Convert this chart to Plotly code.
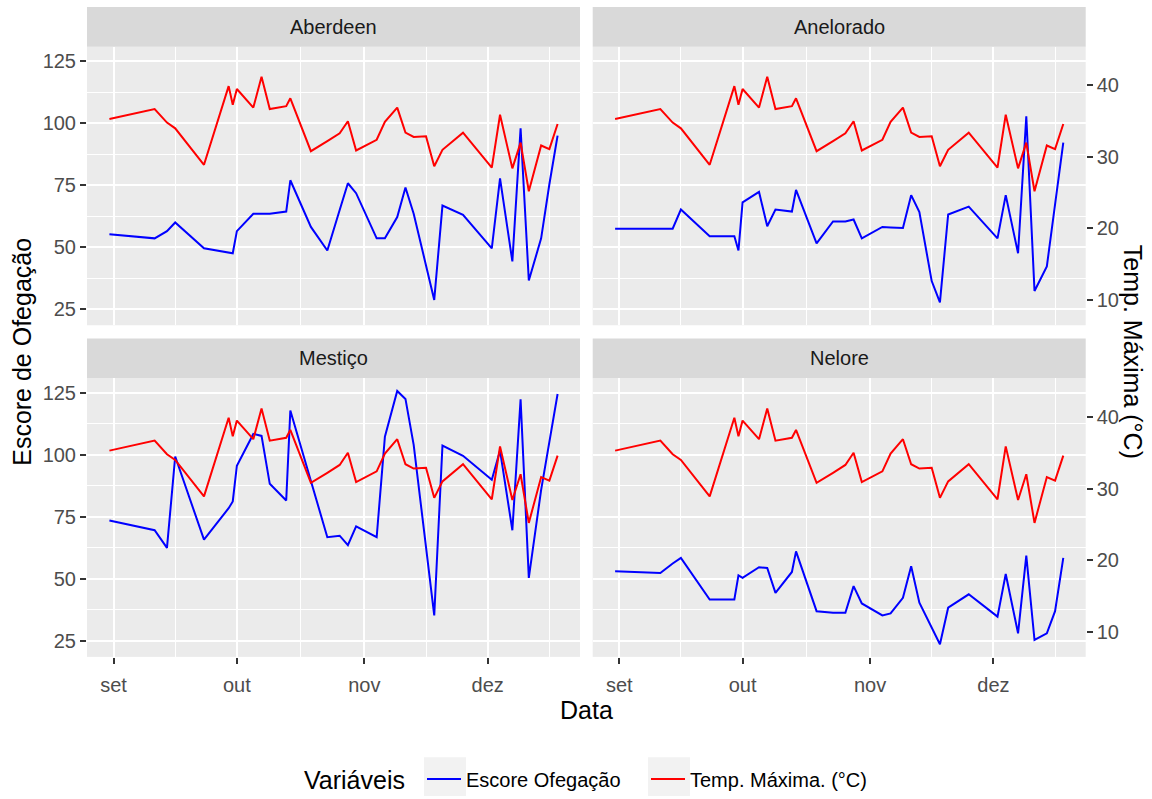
import pandas as pd
import plotly.graph_objects as go

# Datas das medições
datas = [
    "2022-08-31", "2022-09-11", "2022-09-14", "2022-09-16", "2022-09-23",
    "2022-09-29", "2022-09-30", "2022-10-01", "2022-10-05", "2022-10-07",
    "2022-10-09", "2022-10-13", "2022-10-14", "2022-10-19", "2022-10-23",
    "2022-10-26", "2022-10-28", "2022-10-30", "2022-11-04", "2022-11-06",
    "2022-11-09", "2022-11-11", "2022-11-13", "2022-11-16", "2022-11-18",
    "2022-11-20", "2022-11-25", "2022-12-02", "2022-12-04", "2022-12-07",
    "2022-12-09", "2022-12-11", "2022-12-14", "2022-12-16", "2022-12-18",
]

# Temperatura máxima do dia (°C)
temp_maxima = [
    35.3, 36.7, 34.8, 34.0, 28.9, 39.9, 37.3, 39.5, 36.9, 41.2,
    36.7, 37.1, 38.2, 30.8, 32.2, 33.3, 35.0, 30.9, 32.4, 34.9,
    36.9, 33.4, 32.8, 32.9, 28.7, 31.0, 33.4, 28.5, 35.9, 28.4,
    32.0, 25.2, 31.6, 31.1, 34.6,
]

# Escore de ofegação por raça
escore_aberdeen = [
    55.3, 53.6, 56.5, 60.0, 49.6, 47.9, 47.6, 56.5, 63.5, 63.5,
    63.5, 64.4, 77.0, 58.2, 48.7, 65.0, 75.8, 71.8, 53.6, 53.6,
    62.2, 74.1, 63.5, 42.7, 28.8, 66.8, 63.1, 49.6, 77.8, 44.3,
    97.9, 36.6, 53.6, 75.4, 95.0,
]
escore_anelorado = [
    57.5, 57.5, 57.5, 65.2, 54.5, 54.5, 48.7, 68.1, 72.3, 58.5,
    65.2, 64.4, 73.1, 51.6, 60.4, 60.4, 61.2, 53.6, 58.2, 58.0,
    57.8, 71.0, 64.2, 36.4, 27.8, 63.2, 66.4, 53.6, 71.0, 47.6,
    102.8, 32.4, 42.3, 67.3, 92.2,
]
escore_mestico = [
    73.5, 69.6, 62.5, 99.3, 65.8, 78.5, 81.2, 95.6, 108.4, 107.6,
    88.3, 81.6, 117.8, 89.4, 66.8, 67.4, 63.6, 71.2, 66.8, 107.3,
    125.7, 122.5, 104.0, 62.8, 35.3, 103.7, 99.6, 89.9, 101.7, 69.6,
    122.3, 50.4, 85.9, 105.2, 124.5,
]
escore_nelore = [
    53.1, 52.4, 56.2, 58.5, 41.7, 41.7, 51.4, 50.4, 54.7, 54.4,
    44.4, 52.8, 61.1, 37.0, 36.4, 36.4, 47.1, 40.1, 35.3, 36.1,
    42.4, 55.1, 40.4, 30.3, 23.7, 38.4, 43.8, 34.8, 52.0, 28.1,
    59.4, 25.4, 28.1, 37.0, 58.5,
]

racas = ["Aberdeen", "Anelorado", "Mestiço", "Nelore"]
meses_tick = ["2022-09-01", "2022-10-01", "2022-11-01", "2022-12-01"]
meses_rotulo = ["set", "out", "nov", "dez"]
escore_ticks = [25, 50, 75, 100, 125]
temp_ticks = [10, 20, 30, 40]

# Fator que leva a temperatura para a escala do escore (eixo secundário)
FATOR = 2.88

escores = [escore_aberdeen, escore_anelorado, escore_mestico, escore_nelore]

W, H = 1152, 799
FONTE = "Liberation Sans, Arial, sans-serif"
COLUNAS = [(87, 580), (592.7, 1085.7)]      # px horizontais dos painéis
LINHAS = [(47, 327.3), (380.7, 661)]         # px verticais dos painéis
FAIXA = 40                                   # altura da faixa de título do painel

# Limites com expansão de 5% (como no ggplot)
d = pd.to_datetime(datas)
span = d.max() - d.min()
x_range = [d.min() - 0.05 * span, d.max() + 0.05 * span]

todos = [v for s in escores for v in s] + [t * FATOR for t in temp_maxima]
lo, hi = min(todos), max(todos)
y_range = [lo - 0.05 * (hi - lo), hi + 0.05 * (hi - lo)]
t_range = [y_range[0] / FATOR, y_range[1] / FATOR]

# Linhas de grade secundárias: pontos médios entre as marcas principais
mt = pd.to_datetime(meses_tick)
minor_x = [mt[i] + (mt[i + 1] - mt[i]) / 2 for i in range(len(mt) - 1)]
minor_x.append(mt[-1] + (mt[-1] - mt[-2]) / 2)
minor_x = [m for m in minor_x if x_range[0] <= m <= x_range[1]]
minor_y = [(a + b) / 2 for a, b in zip(escore_ticks[:-1], escore_ticks[1:])]

fig = go.Figure()
layout = dict(
    width=W, height=H,
    margin=dict(l=0, r=0, t=0, b=0),
    paper_bgcolor="white",
    plot_bgcolor="#EBEBEB",
    font=dict(family=FONTE, color="black"),
    showlegend=True,
)

eixo_comum = dict(zeroline=False, showline=False, fixedrange=True,
                  ticklen=6, tickwidth=1.5, tickcolor="#333333",
                  tickfont=dict(size=20, color="#4D4D4D", family=FONTE))

shapes = []
annotations = []
for i, (raca, esc) in enumerate(zip(racas, escores)):
    r, c = divmod(i, 2)
    n = "" if i == 0 else str(i + 1)
    x0, x1 = COLUNAS[c]
    y0, y1 = LINHAS[r]

    layout[f"xaxis{n}"] = dict(
        eixo_comum, domain=[x0 / W, x1 / W], anchor=f"y{n}", type="date",
        range=x_range, tickmode="array", tickvals=meses_tick, ticktext=meses_rotulo,
        showticklabels=(r == 1), ticks="outside" if r == 1 else "",
        ticklabelstandoff=4,
        showgrid=True, gridcolor="white", gridwidth=2,
        minor=dict(tickvals=minor_x, showgrid=True, gridcolor="white", gridwidth=1, ticks=""),
    )
    layout[f"yaxis{n}"] = dict(
        eixo_comum, domain=[1 - y1 / H, 1 - y0 / H], anchor=f"x{n}",
        range=y_range, tickmode="array", tickvals=escore_ticks,
        showticklabels=(c == 0), ticks="outside" if c == 0 else "",
        showgrid=True, gridcolor="white", gridwidth=2,
        minor=dict(tickvals=minor_y, showgrid=True, gridcolor="white", gridwidth=1, ticks=""),
    )
    layout[f"yaxis{i + 5}"] = dict(
        eixo_comum, overlaying=f"y{n}", anchor=f"x{n}", side="right",
        range=t_range, tickmode="array", tickvals=temp_ticks,
        showgrid=False, visible=(c == 1),
        showticklabels=(c == 1), ticks="outside" if c == 1 else "",
    )

    fig.add_trace(go.Scatter(
        x=datas, y=esc, mode="lines", name="Escore Ofegação",
        line=dict(color="#0000FF", width=2), legendgroup="escore",
        showlegend=(i == 0), xaxis=f"x{n}", yaxis=f"y{n}", hoverinfo="skip",
    ))
    fig.add_trace(go.Scatter(
        x=datas, y=temp_maxima, mode="lines", name="Temp. Máxima. (°C)",
        line=dict(color="#FF0000", width=2), legendgroup="temp",
        showlegend=(i == 0), xaxis=f"x{n}", yaxis=f"y{i + 5}", hoverinfo="skip",
    ))

    # faixa com o nome da raça
    shapes.append(dict(type="rect", xref="paper", yref="paper",
                       x0=x0 / W, x1=x1 / W, y0=1 - y0 / H, y1=1 - (y0 - FAIXA) / H,
                       fillcolor="#D9D9D9", line=dict(width=0), layer="below"))
    annotations.append(dict(text=raca, xref="paper", yref="paper",
                            x=(x0 + x1) / 2 / W, y=1 - (y0 - FAIXA / 2) / H,
                            xanchor="center", yanchor="middle", showarrow=False,
                            font=dict(size=20, color="#1A1A1A")))

# fundo cinza das chaves da legenda
LEG_Y = (762, 801)
for kx in (424, 648):
    shapes.append(dict(type="rect", xref="paper", yref="paper",
                       x0=kx / W, x1=(kx + 42) / W, y0=1 - LEG_Y[1] / H, y1=1 - LEG_Y[0] / H,
                       fillcolor="#F2F2F2", line=dict(width=0), layer="below"))

# títulos dos eixos e da legenda
annotations += [
    dict(text="Data", xref="paper", yref="paper", x=(COLUNAS[0][0] + COLUNAS[1][1]) / 2 / W,
         y=1 - 714 / H, xanchor="center", yanchor="middle", showarrow=False,
         font=dict(size=25)),
    dict(text="Escore de Ofegação", xref="paper", yref="paper", x=22 / W,
         y=1 - (LINHAS[0][0] + LINHAS[1][1]) / 2 / H, xanchor="center", yanchor="middle",
         textangle=-90, showarrow=False, font=dict(size=25)),
    dict(text="Temp. Máxima (°C)", xref="paper", yref="paper", x=1133 / W,
         y=1 - (LINHAS[0][0] + LINHAS[1][1]) / 2 / H, xanchor="center", yanchor="middle",
         textangle=90, showarrow=False, font=dict(size=25)),
    dict(text="Variáveis", xref="paper", yref="paper", x=302 / W,
         y=1 - 785 / H, xanchor="left", yanchor="middle", showarrow=False,
         font=dict(size=25)),
]

layout["shapes"] = shapes
layout["annotations"] = annotations
layout["legend"] = dict(
    orientation="h", x=422 / W, xanchor="left", y=1 - 784 / H, yanchor="middle",
    font=dict(size=20, color="black"), bgcolor="rgba(0,0,0,0)",
    itemwidth=34, entrywidth=175, entrywidthmode="pixels",
)

fig.update_layout(**layout)
fig.write_html("out.html")
